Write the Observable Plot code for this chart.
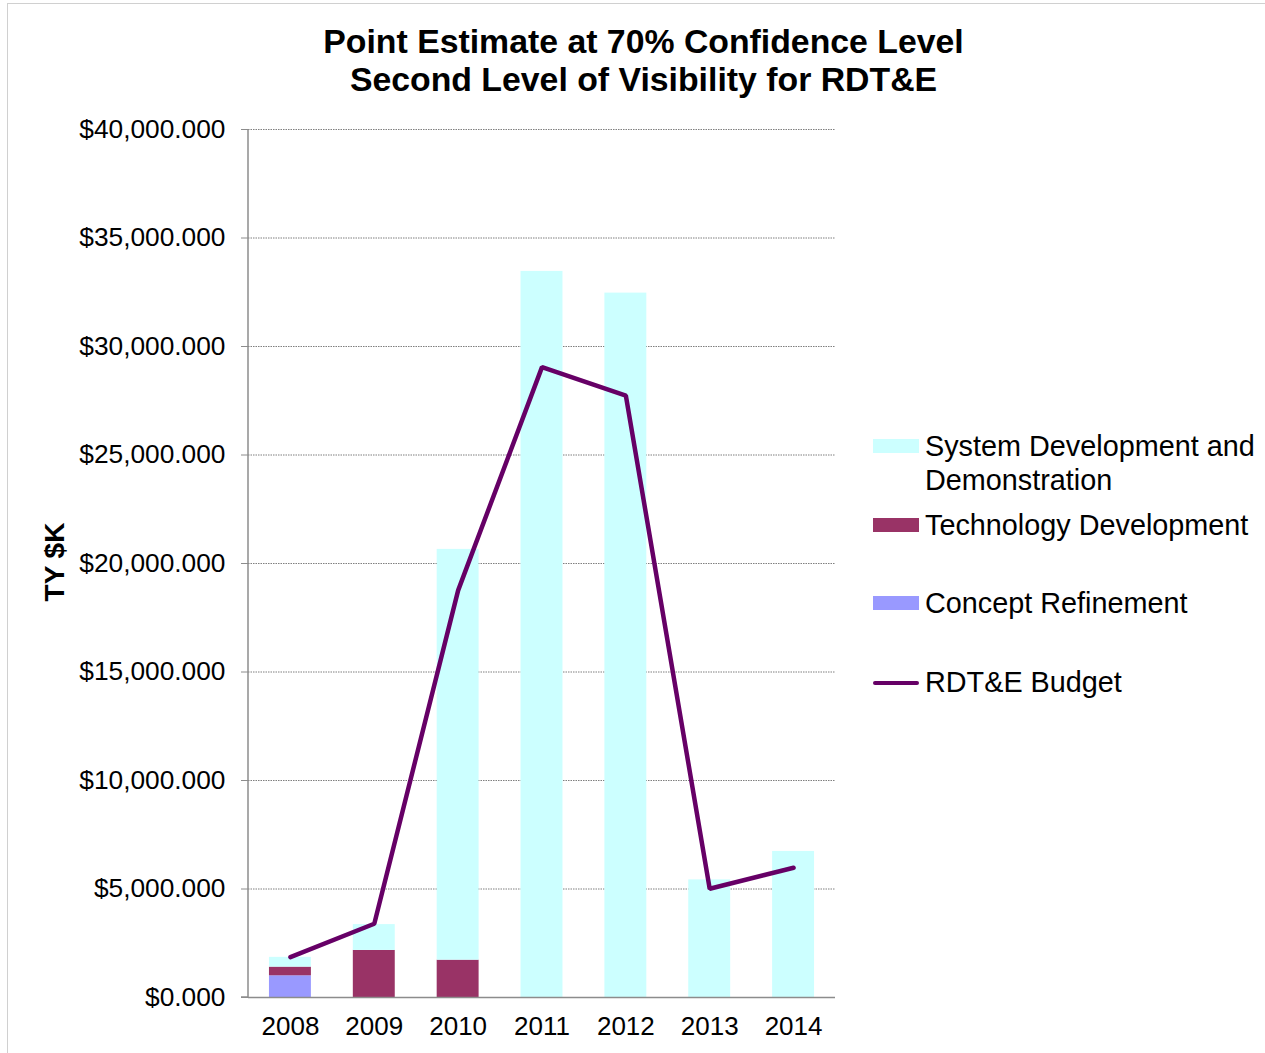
<!DOCTYPE html>
<html>
<head>
<meta charset="utf-8">
<script src="https://cdn.jsdelivr.net/npm/d3@7"></script>
<script src="https://cdn.jsdelivr.net/npm/@observablehq/plot@0.6"></script>
<style>
  html, body { margin: 0; padding: 0; background: #fff; }
  body { width: 1265px; height: 1053px; overflow: hidden; font-family: "Liberation Sans", Arial, sans-serif; }
  #wrap { position: relative; width: 1265px; height: 1053px; }
  #border { position: absolute; left: 7px; top: 3px; width: 1265px; height: 1060px; border: 1px solid #d0d0d0; box-sizing: border-box; }
  #title { position: absolute; left: 0; top: 22px; width: 1287px; text-align: center; font-weight: bold; font-size: 33.8px; line-height: 38px; color: #000; }
  #chart { position: absolute; left: 0; top: 0; }
  #ylabel { position: absolute; left: 55px; top: 562px; transform: translate(-50%, -50%) rotate(-90deg); font-weight: bold; font-size: 28px; white-space: nowrap; }
  .leg { position: absolute; left: 873px; font-size: 28.8px; line-height: 34px; color: #000; }
  .leg .sw { position: absolute; left: 0; width: 46px; height: 14px; }
  .leg .tx { position: absolute; left: 52px; white-space: nowrap; }
</style>
</head>
<body>
<div id="wrap">
  <div id="border"></div>
  <div id="chart"></div>
  <div id="title">Point Estimate at 70% Confidence Level<br>Second Level of Visibility for RDT&amp;E</div>
  <div id="ylabel">TY $K</div>
  <div id="legend"></div>
</div>
<script>
// ---- Data (TY $K) ----
const years = ["2008", "2009", "2010", "2011", "2012", "2013", "2014"];
const conceptRefinement = [1000, 0, 0, 0, 0, 0, 0];
const technologyDevelopment = [400, 2170, 1720, 0, 0, 0, 0];
const systemDevelopment = [450, 1190, 18930, 33460, 32460, 5420, 6730];
const rdteBudget = [1860, 3400, 18760, 29050, 27740, 5010, 5980];
const yTicks = [0, 5000, 10000, 15000, 20000, 25000, 30000, 35000, 40000];

const seriesNames = ["Concept Refinement", "Technology Development", "System Development and Demonstration"];
const seriesColors = ["#9999FF", "#993366", "#CCFFFF"];
const budgetName = "RDT&E Budget";
const budgetColor = "#660066";

const seriesValues = [conceptRefinement, technologyDevelopment, systemDevelopment];
const barData = [];
seriesNames.forEach((s, si) => {
  years.forEach((yr, i) => barData.push({year: yr, series: s, order: si, value: seriesValues[si][i]}));
});
const lineData = years.map((yr, i) => ({year: yr, value: rdteBudget[i]}));

const fmt = d => "$" + d3.format(",.3f")(d);

const chart = Plot.plot({
  width: 1265,
  height: 1053,
  marginLeft: 248,
  marginRight: 430,
  marginTop: 129,
  marginBottom: 56,
  style: {fontFamily: '"Liberation Sans", Arial, sans-serif', fontSize: "26px", color: "#000", background: "transparent"},
  x: {domain: years, paddingInner: 0.5, paddingOuter: 0.25, round: false, label: null},
  y: {domain: [0, 40000], label: null},
  color: {domain: seriesNames, range: seriesColors},
  marks: [
    Plot.ruleY(yTicks.filter(d => d > 0), {stroke: "#7f7f7f", strokeWidth: 1, strokeDasharray: "1.5,1"}),
    Plot.barY(barData, Plot.stackY({x: "year", y: "value", fill: "series", order: (d) => d.order})),
    Plot.ruleY([0], {stroke: "#8c8c8c", strokeWidth: 1.5}),
    Plot.line(lineData, {x: "year", y: "value", stroke: budgetColor, strokeWidth: 4.5, strokeLinejoin: "miter", strokeLinecap: "round"}),
    Plot.axisY({ticks: yTicks, tickFormat: fmt, tickSize: 7, tickPadding: 16, stroke: "#8c8c8c", fontSize: 26.3}),
    Plot.axisX({tickSize: 0, tickPadding: 19, fontSize: 26})
  ]
});
document.getElementById("chart").appendChild(chart);

// left axis line at plot's left edge, derived from scales
const xr = chart.scale("x").range;
const yr = chart.scale("y").range;
d3.select(chart).append("line")
  .attr("x1", xr[0]).attr("x2", xr[0])
  .attr("y1", yr[0]).attr("y2", yr[1])
  .attr("stroke", "#8c8c8c").attr("stroke-width", 1.5);
d3.select(chart).append("line")
  .attr("x1", xr[0] - 7).attr("x2", xr[0])
  .attr("y1", yr[0]).attr("y2", yr[0])
  .attr("stroke", "#8c8c8c").attr("stroke-width", 1.5);

// ---- Legend ----
const legendItems = [
  {name: "System Development and\nDemonstration", color: "#CCFFFF", type: "rect", top: 429},
  {name: "Technology Development", color: "#993366", type: "rect", top: 508},
  {name: "Concept Refinement", color: "#9999FF", type: "rect", top: 586},
  {name: budgetName, color: budgetColor, type: "line", top: 665}
];
const legend = document.getElementById("legend");
legendItems.forEach(it => {
  const div = document.createElement("div");
  div.className = "leg";
  div.style.top = it.top + "px";
  const sw = document.createElement("div");
  sw.className = "sw";
  if (it.type === "rect") {
    sw.style.background = it.color;
    sw.style.top = "10px";
  } else {
    sw.style.height = "4px";
    sw.style.top = "16px";
    sw.style.background = it.color;
    sw.style.borderRadius = "2px";
  }
  const tx = document.createElement("div");
  tx.className = "tx";
  tx.innerHTML = it.name.replace("&", "&amp;").replace("\n", "<br>");
  div.appendChild(sw);
  div.appendChild(tx);
  legend.appendChild(div);
});
</script>
</body>
</html>
